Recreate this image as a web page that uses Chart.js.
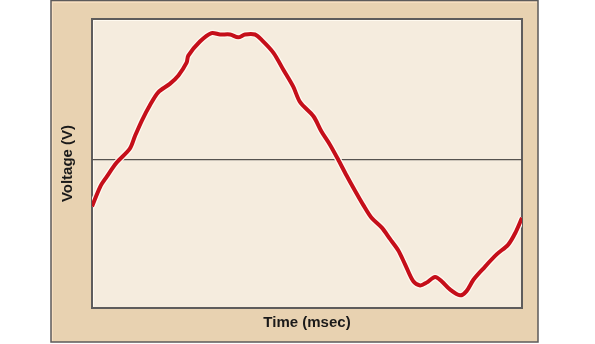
<!DOCTYPE html>
<html lang="en">
<head>
    <meta charset="UTF-8">
    <title>Voltage vs Time</title>
    <script src="https://cdn.jsdelivr.net/npm/chart.js"></script>
    <style>
        html, body { margin: 0; padding: 0; background: #fff; }
        .chart-container { position: relative; width: 595px; height: 344px; }
    </style>
</head>
<body>

<div class="chart-container">
    <canvas id="voltageChart"></canvas>
</div>

<script>
    // Trace (time in arbitrary units 0-100, voltage relative)
    const timeValues = [0, 1.9, 3.4, 5.7, 8.8, 10.0, 11.6, 13.5, 15.4, 18.1, 20.1, 22.0, 22.4, 25.1, 27.8,
        29.8, 32.1, 34.0, 35.6, 37.9, 39.5, 42.2, 44.5, 46.8, 48.4, 51.5, 53.4, 55.3, 57.3, 59.2,
        61.2, 63.1, 65.0, 67.4, 69.3, 71.2, 72.8, 74.7, 76.3, 77.8, 79.8, 81.3, 83.3, 85.6, 87.1,
        88.7, 91.0, 94.1, 96.8, 98.4, 100];
    const voltageValues = [-0.33, -0.19, -0.12, -0.02, 0.08, 0.17, 0.28, 0.39, 0.48, 0.54, 0.60, 0.69, 0.74, 0.84, 0.90,
        0.89, 0.89, 0.87, 0.89, 0.89, 0.85, 0.76, 0.64, 0.52, 0.41, 0.31, 0.20, 0.11, 0.00, -0.11,
        -0.22, -0.32, -0.41, -0.48, -0.56, -0.64, -0.74, -0.86, -0.89, -0.87, -0.83, -0.86, -0.92, -0.96, -0.93,
        -0.85, -0.77, -0.67, -0.60, -0.52, -0.41];
    const xTitle = "Time (msec)";
    const yTitle = "Voltage (V)";

    const trace = timeValues.map((t, i) => ({ x: t, y: voltageValues[i] }));

    // panel backgrounds drawn behind the chart
    const framePlugin = {
        id: "frame",
        beforeDraw(chart) {
            const c = chart.ctx;
            const a = chart.chartArea;
            c.save();
            c.fillStyle = "#ffffff";
            c.fillRect(0, 0, chart.width, chart.height);

            // outer tan panel
            c.fillStyle = "#e8d2b1";
            c.fillRect(51, 0, 487, 342);
            c.strokeStyle = "#f7dfc0";
            c.lineWidth = 2;
            c.beginPath();
            c.moveTo(52, 342); c.lineTo(52, 2); c.lineTo(537, 2);
            c.stroke();
            c.strokeStyle = "#5c5a5a";
            c.lineWidth = 1.5;
            c.strokeRect(51, 0.5, 487, 341.5);

            // inner plot panel
            c.fillStyle = "#f5ecde";
            c.fillRect(a.left, a.top, a.right - a.left, a.bottom - a.top);
            c.strokeStyle = "#5e5c5c";
            c.lineWidth = 2;
            c.strokeRect(a.left, a.top, a.right - a.left, a.bottom - a.top);
            c.strokeStyle = "#fffaf0";
            c.lineWidth = 1;
            c.beginPath();
            c.moveTo(a.left + 1.5, a.bottom - 1.5); c.lineTo(a.left + 1.5, a.top + 1.5); c.lineTo(a.right - 1.5, a.top + 1.5);
            c.stroke();
            c.restore();
        }
    };

    new Chart(document.getElementById("voltageChart"), {
        type: "scatter",
        data: {
            datasets: [
                {
                    data: trace,
                    showLine: true,
                    borderColor: "#c50f1a",
                    borderWidth: 4,
                    pointRadius: 0,
                    tension: 0.3,
                    order: 0
                },
                {
                    // thin pale halo around the trace
                    data: trace,
                    showLine: true,
                    borderColor: "#fffaf2",
                    borderWidth: 6.5,
                    pointRadius: 0,
                    tension: 0.3,
                    order: 1
                }
            ]
        },
        plugins: [framePlugin],
        options: {
            responsive: true,
            maintainAspectRatio: false,
            animation: false,
            layout: { padding: { top: 19, right: 73, bottom: 0, left: 52 } },
            plugins: {
                legend: { display: false },
                tooltip: { enabled: false }
            },
            scales: {
                x: {
                    type: "linear",
                    min: 0,
                    max: 100,
                    ticks: { display: false },
                    grid: { display: false, drawTicks: false },
                    border: { display: false },
                    title: {
                        display: true,
                        text: xTitle,
                        color: "#1a1a1a",
                        font: { family: "Liberation Sans, Arial, sans-serif", size: 15, weight: "bold" },
                        padding: { top: 6, bottom: 12 }
                    }
                },
                y: {
                    min: -1.05,
                    max: 1,
                    ticks: { display: false, stepSize: 0.5 },
                    grid: {
                        drawTicks: false,
                        lineWidth: 1.2,
                        color: (ctx) => ctx.tick && ctx.tick.value === 0 ? "#55524f" : "rgba(0,0,0,0)"
                    },
                    border: { display: false },
                    title: {
                        display: true,
                        text: yTitle,
                        color: "#1a1a1a",
                        font: { family: "Liberation Sans, Arial, sans-serif", size: 15, weight: "bold" },
                        padding: { top: 7, bottom: 15 }
                    }
                }
            }
        }
    });
</script>

</body>
</html>
